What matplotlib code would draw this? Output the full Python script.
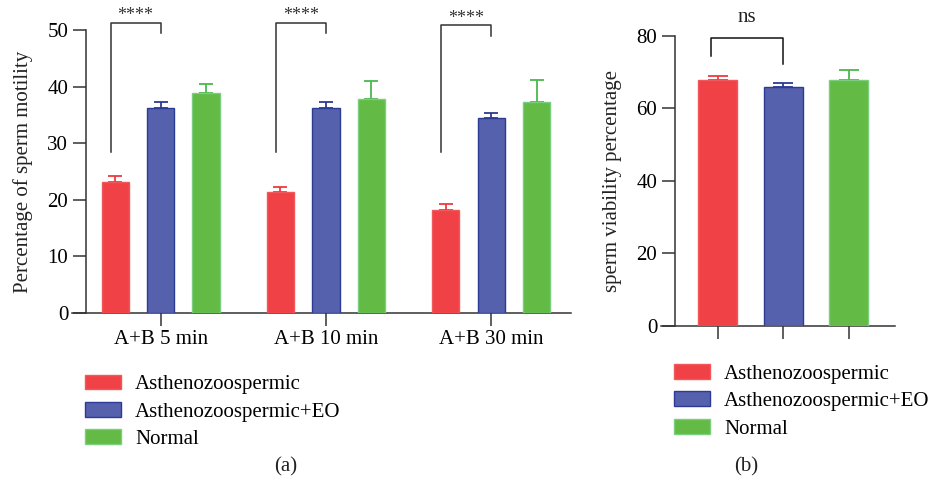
import matplotlib
matplotlib.use("Agg")
import matplotlib.pyplot as plt
from matplotlib.patches import Patch
import numpy as np

plt.rcParams["font.family"] = ["Liberation Serif", "DejaVu Serif"]

groups = ["Asthenozoospermic", "Asthenozoospermic+EO", "Normal"]
times = ["A+B 5 min", "A+B 10 min", "A+B 30 min"]

# panel (a): motility per time point
motility_mean = {
    "Asthenozoospermic": [23.2, 21.3, 18.2],
    "Asthenozoospermic+EO": [36.3, 36.3, 34.4],
    "Normal": [38.8, 37.8, 37.2],
}
motility_err = {
    "Asthenozoospermic": [1.05, 1.0, 1.0],
    "Asthenozoospermic+EO": [0.9, 0.9, 0.9],
    "Normal": [1.6, 3.2, 4.0],
}
# panel (b): viability
viability_mean = [67.9, 65.8, 67.9]
viability_err = [1.2, 1.3, 2.8]

fill = ["#F04246", "#5661AD", "#63BB45"]
edge = ["#F0585C", "#2C3B93", "#7ACF7E"]
errc = ["#EE3A40", "#2C3B93", "#4CB84E"]
axc = "#333333"

fig = plt.figure(figsize=(9.34, 4.87), dpi=100)

# ---------- panel (a)
ax1 = fig.add_axes([0.0776, 0.3573, 0.5334, 0.5811])
gap = 3.64
centers = np.arange(len(times)) * gap
for i, g in enumerate(groups):
    x = centers + (i - 1)
    ax1.bar(x, motility_mean[g], width=0.6, color=fill[i], edgecolor=edge[i],
            linewidth=1.0, zorder=3)
    ax1.errorbar(x, motility_mean[g], yerr=[[0] * 3, motility_err[g]], fmt="none",
                 ecolor=errc[i], elinewidth=1.3, capsize=5, capthick=1.3, zorder=2)

ax1.set_xlim(-1.94, 9.03)
ax1.set_ylim(0, 50)
ax1.set_xticks(centers)
ax1.set_xticklabels(times, fontsize=15)
ax1.set_yticks(range(0, 51, 10))
ax1.tick_params(axis="y", labelsize=15, length=9.5, width=1.1, color=axc, pad=3)
ax1.tick_params(axis="x", length=9.5, width=1.1, color=axc, pad=3)
ax1.spines["top"].set_visible(False)
ax1.spines["right"].set_visible(False)
ax1.spines["left"].set_position(("data", -1.65))
for s in ["left", "bottom"]:
    ax1.spines[s].set_color(axc)
    ax1.spines[s].set_linewidth(1.1)
ax1.set_ylabel("Percentage of sperm motility", fontsize=15, color="#222222")
ax1.yaxis.set_label_coords(-0.08, 0.5)

# significance brackets
br_top = [51.3, 51.3, 50.8]
br_right = [49.4, 49.4, 49.0]
for c, top, rb in zip(centers, br_top, br_right):
    ax1.plot([c - 1.1, c - 1.1, c, c], [28.5, top, top, rb], color=axc, lw=1.1,
             clip_on=False)
    ax1.text(c - 0.55, top - 0.3, "****", ha="center", va="bottom", fontsize=13,
             color=axc, clip_on=False)

# ---------- panel (b)
ax2 = fig.add_axes([0.7074, 0.3306, 0.2512, 0.5955])
xb = np.arange(3)
ax2.bar(xb, viability_mean, width=0.6, color=fill, edgecolor=edge, linewidth=1.0,
        zorder=3)
for i in range(3):
    ax2.errorbar(xb[i], viability_mean[i], yerr=[[0], [viability_err[i]]], fmt="none",
                 ecolor=errc[i], elinewidth=1.3, capsize=7, capthick=1.3, zorder=2)
ax2.set_xlim(-0.87, 2.71)
ax2.set_ylim(0, 80)
ax2.set_xticks(xb)
ax2.set_xticklabels([])
ax2.set_yticks(range(0, 81, 20))
ax2.tick_params(axis="y", labelsize=15, length=9.5, width=1.1, color=axc, pad=3)
ax2.tick_params(axis="x", length=9.5, width=1.1, color=axc)
ax2.spines["top"].set_visible(False)
ax2.spines["right"].set_visible(False)
ax2.spines["left"].set_position(("data", -0.657))
for s in ["left", "bottom"]:
    ax2.spines[s].set_color(axc)
    ax2.spines[s].set_linewidth(1.1)
ax2.set_ylabel("sperm viability percentage", fontsize=15, color="#222222")
ax2.yaxis.set_label_coords(-0.165, 0.5)

ax2.plot([-0.11, -0.11, 1.0, 1.0], [74.5, 79.4, 79.4, 72.3], color="#111111", lw=1.1,
         clip_on=False)
ax2.text(0.44, 82.5, "ns", ha="center", va="bottom", fontsize=15, color="#222222",
         clip_on=False)

# ---------- legends and panel letters
handles = [Patch(facecolor=fill[i], edgecolor=edge[i], label=groups[i]) for i in range(3)]
leg_kw = dict(frameon=False, fontsize=15, handlelength=1.75, handleheight=0.72,
              handletextpad=0.65, labelspacing=0.37, borderpad=0, borderaxespad=0,
              loc="upper left")
fig.legend(handles=handles, bbox_to_anchor=(85 / 934, 1 - 374.5 / 487), **leg_kw)
fig.legend(handles=handles, bbox_to_anchor=(674 / 934, 1 - 364 / 487), **leg_kw)

fig.text(286 / 934, 1 - 467 / 487, "(a)", ha="center", va="center", fontsize=15,
         color="#222222")
fig.text(746 / 934, 1 - 467 / 487, "(b)", ha="center", va="center", fontsize=15,
         color="#222222")

fig.savefig("out.png", dpi=100)
plt.close(fig)
